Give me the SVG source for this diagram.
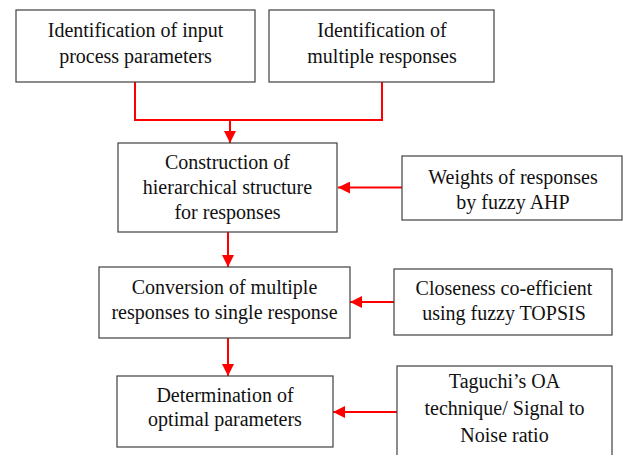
<svg xmlns="http://www.w3.org/2000/svg" width="635" height="455" viewBox="0 0 635 455">
  <defs>
    <style>
      .box { fill: #ffffff; stroke: #404040; stroke-width: 1.2; }
      .lbl { font-family: "Liberation Serif", "Times New Roman", serif; font-size: 20px; fill: #111111; text-anchor: middle; }
      .link { fill: none; stroke: #ff0000; stroke-width: 2; }
    </style>
    <marker id="arrow" markerUnits="userSpaceOnUse" markerWidth="12" markerHeight="12" viewBox="0 0 12 12" refX="12" refY="6" orient="auto">
      <path d="M0,0 L12,6 L0,12 Z" fill="#ff0000"/>
    </marker>
  </defs>
  <rect width="635" height="455" fill="#ffffff"/>

  <g id="connectors">
    <polyline class="link" points="135,82 135,120 382,120 382,82"/>
    <line class="link" x1="230" y1="120" x2="230" y2="143" marker-end="url(#arrow)"/>
    <line class="link" x1="402" y1="187.5" x2="338" y2="187.5" marker-end="url(#arrow)"/>
    <line class="link" x1="228" y1="232" x2="228" y2="267" marker-end="url(#arrow)"/>
    <line class="link" x1="394" y1="302" x2="350" y2="302" marker-end="url(#arrow)"/>
    <line class="link" x1="228" y1="338" x2="228" y2="376" marker-end="url(#arrow)"/>
    <line class="link" x1="397" y1="412" x2="333" y2="412" marker-end="url(#arrow)"/>
  </g>

  <g id="input-params">
    <rect class="box" x="16" y="10" width="239" height="72"/>
    <text class="lbl" x="135.5" y="37">Identification of input</text>
    <text class="lbl" x="135.5" y="63">process parameters</text>
  </g>

  <g id="multiple-responses">
    <rect class="box" x="269" y="10" width="225" height="72"/>
    <text class="lbl" x="382" y="37">Identification of</text>
    <text class="lbl" x="382" y="63">multiple responses</text>
  </g>

  <g id="hierarchy">
    <rect class="box" x="118" y="143" width="219" height="89"/>
    <text class="lbl" x="227.5" y="168.5">Construction of</text>
    <text class="lbl" x="227.5" y="193.5">hierarchical structure</text>
    <text class="lbl" x="227.5" y="218.5">for responses</text>
  </g>

  <g id="fuzzy-ahp">
    <rect class="box" x="402" y="156" width="220" height="64"/>
    <text class="lbl" x="513" y="183.5">Weights of responses</text>
    <text class="lbl" x="513" y="208.5">by fuzzy AHP</text>
  </g>

  <g id="conversion">
    <rect class="box" x="99" y="267" width="251" height="71"/>
    <text class="lbl" x="224.5" y="293.5">Conversion of multiple</text>
    <text class="lbl" x="224.5" y="318.5">responses to single response</text>
  </g>

  <g id="fuzzy-topsis">
    <rect class="box" x="394" y="269" width="218" height="66"/>
    <text class="lbl" x="504" y="295">Closeness co-efficient</text>
    <text class="lbl" x="504" y="320">using fuzzy TOPSIS</text>
  </g>

  <g id="optimal">
    <rect class="box" x="117" y="376" width="216" height="71"/>
    <text class="lbl" x="225" y="401.5">Determination of</text>
    <text class="lbl" x="225" y="425.5">optimal parameters</text>
  </g>

  <g id="taguchi">
    <rect class="box" x="397" y="366" width="215" height="100"/>
    <text class="lbl" x="504.5" y="387.5">Taguchi’s OA</text>
    <text class="lbl" x="504.5" y="415">technique/ Signal to</text>
    <text class="lbl" x="504.5" y="441.5">Noise ratio</text>
  </g>
</svg>
